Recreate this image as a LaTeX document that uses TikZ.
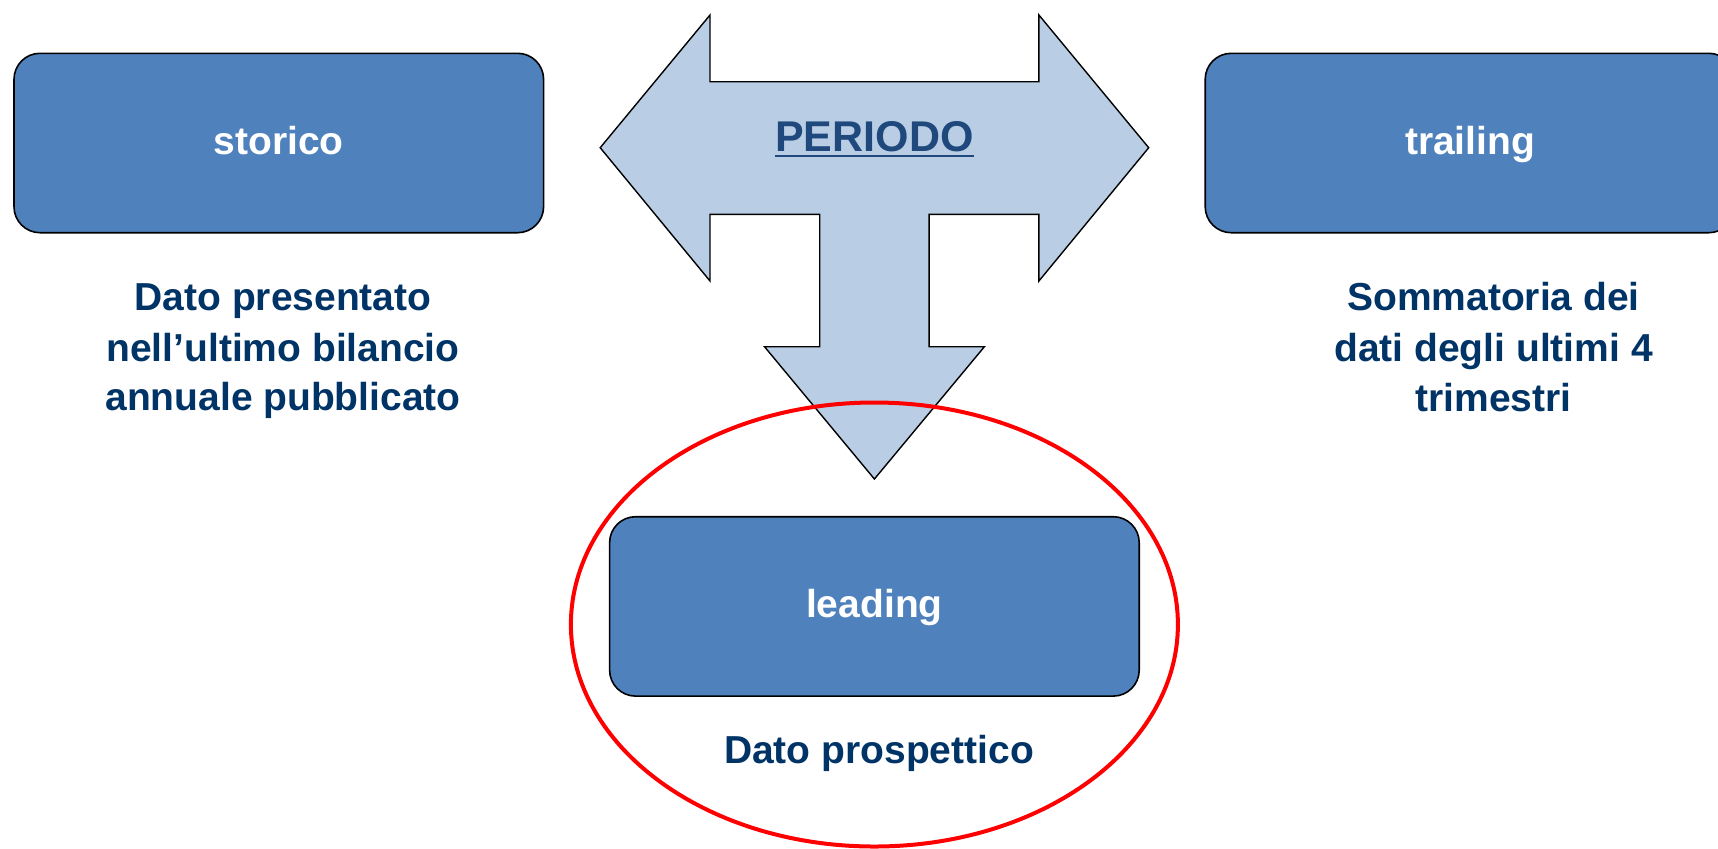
\documentclass[tikz,border=0pt]{standalone}
\usepackage{fontspec}
\setmainfont{Liberation Sans}
\definecolor{boxblue}{HTML}{4F81BD}
\definecolor{arrowblue}{HTML}{B9CDE5}
\definecolor{navy}{HTML}{003366}
\definecolor{titleblue}{HTML}{1F497D}
\tikzset{
  stagebox/.style={draw=black, line width=0.8pt, fill=boxblue, rounded corners=13pt,
    minimum width=264.8pt, minimum height=89.7pt, inner sep=0pt,
    text=white, font=\fontsize{19.5}{23}\selectfont\bfseries,
    text height=14pt, text depth=3pt},
  noteline/.style={anchor=base, inner sep=0pt, text=navy,
    font=\fontsize{19.5}{23}\selectfont\bfseries},
  bigarrow/.style={draw=black, line width=0.7pt, fill=arrowblue, line join=miter},
  focus/.style={draw=red, line width=2pt}
}
\begin{document}
\begin{tikzpicture}[x={(0.5pt,0)}, y={(0,-0.5pt)}]
\useasboundingbox (0,0) rectangle (1718,848);
\clip (0,0) rectangle (1718,848);

% three-way arrow: left, right and down
\draw[bigarrow] (600.2,147.7) -- (710,15) -- (710,81.7) -- (1038.9,81.7) -- (1038.9,15)
  -- (1148.7,147.7) -- (1038.9,281) -- (1038.9,214.3) -- (929.1,214.3) -- (929.1,346.7)
  -- (984.4,346.7) -- (874.4,479) -- (764.5,346.7) -- (819.7,346.7) -- (819.7,214.3)
  -- (710,214.3) -- (710,281) -- cycle;

% arrow title, underlined
\node[anchor=base, inner sep=0pt, text=titleblue,
  font=\fontsize{21.5}{25}\selectfont\bfseries] (periodo) at (874.4,151.7) {PERIODO};
\draw[titleblue, line width=1.35pt] ([yshift=-2.2pt]periodo.base west) -- ([yshift=-2.2pt]periodo.base east);

% the three boxes
\node[stagebox] (storico) at (278.8,143) {storico};
\node[stagebox] (trailing) at (1470,143) {trailing};
\node[stagebox] (leading) at (874.4,606.4) {leading};

% descriptions under the boxes
\node[noteline] (s1) at (283,310) {Dato presentato};
\node[noteline] (s2) at (283,361.5) {nell’ultimo bilancio};
\node[noteline] (s3) at (283,410) {annuale pubblicato};

\node[noteline] (t1) at (1493.5,310) {Sommatoria dei};
\node[noteline] (t2) at (1493.5,361.5) {dati degli ultimi 4};
\node[noteline] (t3) at (1493.5,411) {trimestri};

\node[noteline] (l1) at (879,763) {Dato prospettico};

% highlight around the leading case
\draw[focus] (874.4,624.5) ellipse [x radius=303.5, y radius=222];
\end{tikzpicture}
\end{document}
